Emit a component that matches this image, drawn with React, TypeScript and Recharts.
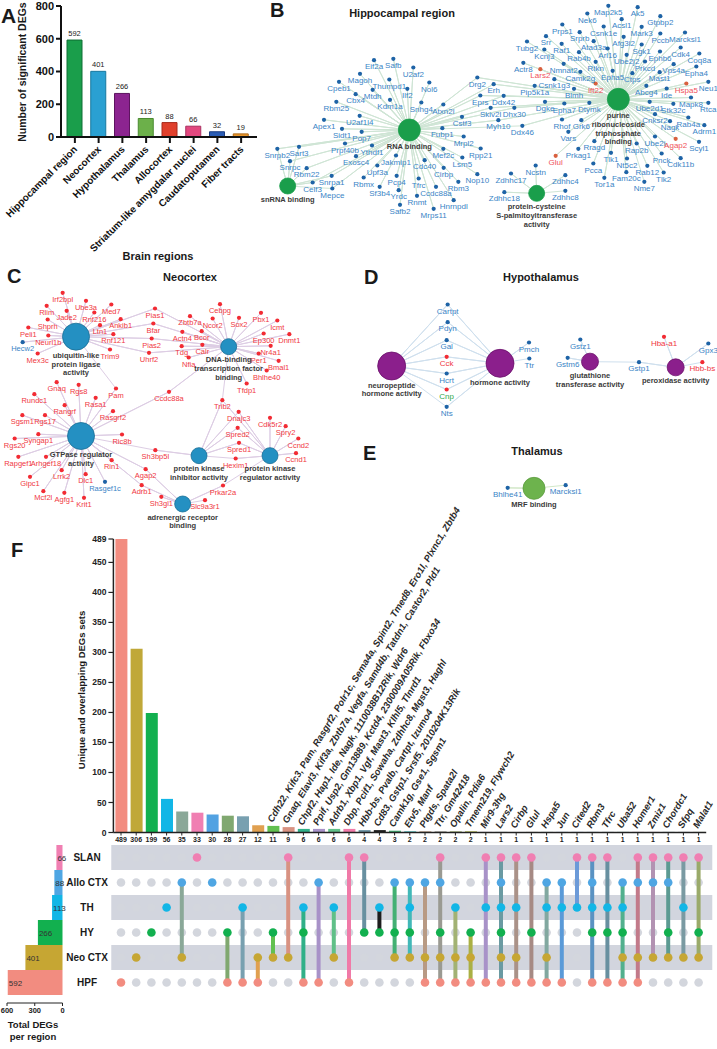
import React from 'react'
import {
  Bar,
  BarChart,
  Cell,
  LabelList,
  ReferenceArea,
  Scatter,
  ScatterChart,
  XAxis,
  YAxis,
} from 'recharts'

const FONT = '"Liberation Sans", Arial, Helvetica, sans-serif'

// ---------- A: DEGs per brain region ----------
const regionNames = [
  'Hippocampal region',
  'Neocortex',
  'Hypothalamus',
  'Thalamus',
  'Allocortex',
  'Striatum-like amygdalar nuclei',
  'Caudatoputamen',
  'Fiber tracts',
]
const regionDEGs = [592, 401, 266, 113, 88, 66, 32, 19]
const regionFill = ['#1a9e4b', '#2aa0d2', '#8c2490', '#6cb04a', '#e0402c', '#e2487f', '#2a5cb4', '#e8962c']
const regionEdge = ['#0f6e34', '#17789f', '#5e1460', '#4a8a30', '#a82a1c', '#a83060', '#1a3c80', '#b06a18']
const degTicks = [0, 200, 400, 600, 800]

// ---------- networks (coordinates in 1/3 px of each panel) ----------
type Hub = { id: string; x: number; y: number; lines: string[] }
type Gene = [string, number, number, string, string?]

const hubsB: Hub[] = [
  { id: 'rna', x: 553, y: 390, lines: ['RNA binding'] },
  { id: 'snrna', x: 188, y: 558, lines: ['snRNA binding'] },
  { id: 'ntp', x: 1180, y: 298, lines: ['purine', 'ribonucleoside', 'triphosphate', 'binding'] },
  { id: 'palm', x: 935, y: 580, lines: ['protein-cysteine', 'S-palmitoyltransferase', 'activity'] },
]

const genesB: Gene[] = [
  ['Eif2a', 447, 200, 'rna'], ['Safb', 505, 196, 'rna'], ['U2af2', 565, 222, 'rna'], ['Nol6', 613, 267, 'rna'],
  ['Magoh', 405, 241, 'rna'], ['Thumpd1', 493, 258, 'rna'], ['Cpeb1', 342, 265, 'rna'], ['Mtdh', 443, 289, 'rna'],
  ['Ilf2', 547, 286, 'rna'], ['Cbx4', 392, 302, 'rna'], ['Kdm1a', 495, 319, 'rna'], ['Snhg4', 589, 327, 'rna'],
  ['Atxn2l', 655, 333, 'rna'], ['Rbm25', 334, 325, 'rna'], ['U2af1l4', 404, 367, 'rna'], ['Apex1', 297, 379, 'rna'],
  ['Sidt1', 351, 406, 'rna'], ['Pop7', 410, 415, 'rna'], ['Prpf40b', 360, 450, 'rna'], ['Ythdf1', 441, 456, 'rna'],
  ['Exosc4', 393, 488, 'rna'], ['Jakmip1', 513, 486, 'rna'], ['Upf3a', 457, 516, 'rna'], ['Rbmx', 416, 552, 'rna'],
  ['Pcp4', 515, 547, 'rna'], ['Sf3b4', 464, 580, 'rna'], ['Yrdc', 521, 590, 'rna'], ['Rnmt', 576, 607, 'rna'],
  ['Safb2', 525, 634, 'rna'], ['Mrps11', 626, 646, 'rna'], ['Hnrnpdl', 686, 620, 'rna'], ['Cdc40', 599, 500, 'rna'],
  ['Cirbp', 656, 523, 'rna'], ['Tfrc', 581, 555, 'rna'], ['Ccdc88a', 633, 580, 'rna'], ['Rbm3', 700, 565, 'rna'],
  ['Nop10', 757, 542, 'rna'], ['Mef2c', 655, 466, 'rna'], ['Lsm5', 712, 492, 'rna'], ['Rpp21', 767, 465, 'rna'],
  ['Mrpl2', 716, 429, 'rna'], ['Fubp1', 652, 404, 'rna'], ['Cstf3', 711, 370, 'rna'],
  ['Snrpb2', 157, 466, 'rna+snrna'], ['Sart3', 222, 460, 'rna+snrna'], ['Snrpc', 195, 503, 'rna+snrna'],
  ['Rbm22', 245, 524, 'rna+snrna'], ['Snrpa1', 320, 547, 'rna+snrna'], ['Celf3', 263, 567, 'rna+snrna'],
  ['Mepce', 322, 585, 'rna+snrna'],
  ['Drg2', 757, 252, 'rna+ntp'], ['Erh', 806, 272, 'rna+ntp'], ['Eprs', 766, 306, 'rna+ntp'], ['Ddx42', 836, 307, 'rna+ntp'],
  ['Skiv2l', 797, 343, 'rna+ntp'], ['Dhx30', 868, 343, 'rna+ntp'], ['Myh10', 820, 380, 'rna+ntp'], ['Ddx46', 892, 397, 'rna+ntp'],
  ['Pip5k1a', 929, 277, 'ntp'], ['Csnk1g3', 988, 257, 'ntp'], ['Dgke', 960, 325, 'ntp'], ['Epha7', 1018, 330, 'ntp'],
  ['Dtymk', 1093, 328, 'ntp'], ['Blmh', 1047, 286, 'ntp'], ['Ift22', 1112, 270, 'ntp', 'r'], ['Map2k5', 1150, 37, 'ntp'],
  ['Ak5', 1238, 41, 'ntp'], ['Nek6', 1087, 60, 'ntp'], ['Acsl1', 1190, 77, 'ntp'], ['Gtpbp2', 1306, 68, 'ntp'],
  ['Prps1', 1012, 93, 'ntp'], ['Csnk1e', 1136, 99, 'ntp'], ['Mark3', 1250, 100, 'ntp'], ['Srprb', 1064, 116, 'ntp'],
  ['Pccb', 1306, 120, 'ntp'], ['Marcksl1', 1380, 117, 'ntp'], ['Srr', 963, 128, 'ntp'], ['Atad3a', 1106, 143, 'ntp'],
  ['Afg3l2', 1196, 130, 'ntp'], ['Tubg2', 906, 144, 'ntp'], ['Raf1', 1010, 151, 'ntp'], ['Sgk1', 1250, 153, 'ntp'],
  ['Kcnj3', 958, 168, 'ntp'], ['Arl16', 1148, 165, 'ntp'], ['Rab4b', 1062, 176, 'ntp'], ['Ube2j2', 1205, 184, 'ntp'],
  ['Ephb6', 1305, 174, 'ntp'], ['Cdk4', 1367, 162, 'ntp'], ['Coq8a', 1423, 180, 'ntp'], ['Rtkn', 1112, 205, 'ntp'],
  ['Prkcd', 1260, 204, 'ntp'], ['Actr8', 895, 208, 'ntp'], ['Lars2', 946, 227, 'ntp', 'r'], ['Nmnat2', 1016, 211, 'ntp'],
  ['Camk2g', 1066, 235, 'ntp'], ['Epha5', 1163, 232, 'ntp'], ['Ctps', 1222, 239, 'ntp'], ['Vps4a', 1346, 212, 'ntp'],
  ['Epha4', 1414, 219, 'ntp'], ['Mast1', 1304, 236, 'ntp'], ['Abcg4', 1264, 277, 'ntp'], ['Ide', 1325, 285, 'ntp'],
  ['Hspa5', 1384, 270, 'ntp', 'r'], ['Neu1', 1450, 265, 'ntp'], ['Ube2d1', 1274, 325, 'ntp'], ['Stk32c', 1345, 331, 'ntp'],
  ['Mapk8', 1398, 312, 'ntp'], ['Rtca', 1450, 328, 'ntp'], ['Cnksr2', 1290, 362, 'ntp'], ['Nagk', 1335, 383, 'ntp'],
  ['Rab4a', 1390, 372, 'ntp'], ['Adrm1', 1438, 395, 'ntp'], ['Rhof', 1011, 378, 'ntp'], ['Grk6', 1069, 380, 'ntp'],
  ['Vars', 1030, 415, 'ntp'], ['Ube2i', 1290, 429, 'ntp'], ['Agap2', 1352, 436, 'ntp', 'r'], ['Scyl1', 1422, 445, 'ntp'],
  ['Rragd', 1108, 443, 'ntp'], ['Rap2b', 1235, 450, 'ntp'], ['Glul', 992, 487, 'ntp', 'r'], ['Prkag1', 1060, 466, 'ntp'],
  ['Tlk1', 1158, 478, 'ntp'], ['Pnck', 1310, 480, 'ntp'], ['Cdk11b', 1367, 494, 'ntp'], ['Nt5c2', 1206, 495, 'ntp'],
  ['Pcca', 1105, 510, 'ntp'], ['Rab12', 1267, 517, 'ntp'], ['Tlk2', 1316, 537, 'ntp'], ['Fam20c', 1204, 536, 'ntp'],
  ['Tor1a', 1138, 553, 'ntp'], ['Nme7', 1258, 565, 'ntp'],
  ['Ncstn', 932, 516, 'palm'], ['Zdhhc17', 858, 540, 'palm'], ['Zdhhc4', 1021, 545, 'palm'],
  ['Zdhhc18', 838, 596, 'palm'], ['Zdhhc8', 1021, 592, 'palm'],
]

const hubsC: Hub[] = [
  { id: 'ubi', x: 228, y: 80, lines: ['ubiquitin-like', 'protein ligase', 'activity'] },
  { id: 'dna', x: 686, y: 110, lines: ['DNA-binding', 'transcription factor', 'binding'] },
  { id: 'gtp', x: 243, y: 378, lines: ['GTPase regulator', 'activity'] },
  { id: 'pki', x: 597, y: 437, lines: ['protein kinase', 'inhibitor activity'] },
  { id: 'pkr', x: 810, y: 437, lines: ['protein kinase', 'regulator activity'] },
  { id: 'adr', x: 548, y: 582, lines: ['adrenergic receptor', 'binding'] },
]

const genesC: Gene[] = [
  ['Irf2bpl', 188, -32, 'ubi', 'r'], ['Rlim', 140, 7, 'ubi', 'r'], ['Jade2', 200, 22, 'ubi', 'r'], ['Ube3a', 258, -8, 'ubi', 'r'],
  ['Med7', 334, 3, 'ubi', 'r'], ['Rnf216', 283, 27, 'ubi', 'r'], ['Shprh', 143, 48, 'ubi', 'r'], ['Peli1', 85, 72, 'ubi', 'r'],
  ['Ltn1', 300, 65, 'ubi', 'r'], ['Ankib1', 362, 47, 'ubi', 'r'], ['Neurl1b', 145, 96, 'ubi', 'r'], ['Hecw2', 68, 116, 'ubi', 'b'],
  ['Rnf121', 340, 92, 'ubi', 'r'], ['Mex3c', 113, 150, 'ubi', 'r'], ['Trim9', 330, 138, 'ubi', 'r'],
  ['Pias1', 465, 15, 'ubi+dna', 'r'], ['Bfar', 460, 60, 'ubi+dna', 'r'], ['Pias2', 455, 105, 'ubi+dna', 'r'], ['Uhrf2', 447, 148, 'ubi+dna', 'r'],
  ['Cebpg', 660, 2, 'dna', 'r'], ['Zbtb7a', 570, 38, 'dna', 'r'], ['Ncor2', 638, 45, 'dna', 'r'], ['Sox2', 717, 43, 'dna', 'r'],
  ['Pbx1', 783, 28, 'dna', 'r'], ['Icmt', 832, 51, 'dna', 'r'], ['Actn4', 547, 85, 'dna', 'r'], ['Bcor', 605, 83, 'dna', 'r'],
  ['Ep300', 791, 90, 'dna', 'r'], ['Dnmt1', 868, 92, 'dna', 'r'], ['Tdg', 545, 128, 'dna', 'r'], ['Calr', 607, 124, 'dna', 'r'],
  ['Nr4a1', 812, 127, 'dna', 'r'], ['Nfia', 566, 162, 'dna', 'r'], ['Per1', 776, 150, 'dna', 'r'], ['Bmal1', 836, 172, 'dna', 'r'],
  ['Bhlhe40', 800, 201, 'dna', 'r'], ['Tfdp1', 740, 240, 'dna', 'r'],
  ['Pam', 348, 255, 'ubi+gtp', 'r'], ['Ccdc88a', 507, 265, 'gtp+dna', 'r'], ['Trib2', 667, 290, 'dna+pki+pkr', 'r'],
  ['Gnaq', 170, 236, 'gtp', 'r'], ['Rgs8', 236, 244, 'gtp', 'r'], ['Rundc1', 103, 272, 'gtp', 'r'], ['Rasa1', 287, 283, 'gtp', 'r'],
  ['Rangrf', 194, 305, 'gtp', 'r'], ['Rasgrf2', 339, 323, 'gtp', 'r'], ['Sgsm1', 67, 335, 'gtp', 'r'], ['Rgs17', 135, 335, 'gtp', 'r'],
  ['Syngap1', 115, 392, 'gtp', 'r'], ['Rgs20', 44, 405, 'gtp', 'r'], ['Ric8b', 366, 393, 'gtp', 'r'], ['Rapgef1', 55, 460, 'gtp', 'r'],
  ['Arhgef18', 138, 460, 'gtp', 'r'], ['Rin1', 335, 470, 'gtp', 'r'], ['Gipc1', 90, 520, 'gtp', 'r'], ['Lrrk2', 185, 500, 'gtp', 'r'],
  ['Dlc1', 257, 512, 'gtp', 'r'], ['Rasgef1c', 315, 535, 'gtp', 'b'], ['Mcf2l', 130, 563, 'gtp', 'r'], ['Agfg1', 193, 568, 'gtp', 'r'],
  ['Krit1', 252, 583, 'gtp', 'r'],
  ['Agap2', 437, 497, 'gtp+adr', 'r'], ['Adrb1', 425, 545, 'gtp+adr', 'r'], ['Sh3bp5l', 466, 440, 'gtp+pki', 'r'],
  ['Dnajc3', 716, 325, 'pki+pkr', 'r'], ['Spred2', 713, 373, 'pki+pkr', 'r'], ['Spred1', 717, 418, 'pki+pkr', 'r'],
  ['Hexim1', 707, 465, 'pki+pkr', 'r'],
  ['Cdk5r2', 810, 343, 'pkr', 'r'], ['Spry2', 857, 368, 'pkr', 'r'], ['Ccnd2', 895, 405, 'pkr', 'r'], ['Ccnd1', 888, 449, 'pkr', 'r'],
  ['Prkar2a', 669, 546, 'pkr+adr', 'r'], ['Sh3gl1', 484, 580, 'adr', 'r'], ['Slc9a3r1', 615, 590, 'adr', 'r'],
]

const hubsD: Hub[] = [
  { id: 'neuro', x: 140, y: 168, lines: ['neuropeptide', 'hormone activity'] },
  { id: 'horm', x: 465, y: 160, lines: ['hormone activity'] },
  { id: 'glut', x: 735, y: 155, lines: ['glutathione', 'transferase activity'] },
  { id: 'perox', x: 992, y: 172, lines: ['peroxidase activity'] },
  { id: 'mrf', x: 567, y: 535, lines: ['MRF binding'] },
]

const genesD: Gene[] = [
  ['Cartpt', 308, 3, 'neuro+horm'], ['Pdyn', 308, 56, 'neuro+horm'], ['Gal', 305, 110, 'neuro+horm'],
  ['Cck', 305, 160, 'neuro+horm', 'r'], ['Hcrt', 305, 210, 'neuro+horm'], ['Cnp', 305, 258, 'neuro+horm', 'g'],
  ['Nts', 305, 310, 'neuro+horm'], ['Pmch', 552, 117, 'horm'], ['Ttr', 553, 165, 'horm'],
  ['Gstz1', 706, 108, 'glut'], ['Gstm6', 668, 163, 'glut'], ['Gstp1', 882, 176, 'glut+perox'],
  ['Hba-a1', 957, 100, 'perox', 'r'], ['Gpx3', 1090, 120, 'perox'], ['Hbb-bs', 1072, 176, 'perox', 'r'],
  ['Bhlhe41', 488, 553, 'mrf'], ['Marcksl1', 662, 545, 'mrf'],
]

// ---------- F: UpSet ----------
const setNames = ['SLAN', 'Allo CTX', 'TH', 'HY', 'Neo CTX', 'HPF']
const setSizes = [66, 88, 113, 266, 401, 592]
const setColors = ['#f07fb2', '#4fa6e3', '#12b6e6', '#12b04f', '#c6a633', '#f28c80']

const interSizes = [489, 306, 199, 56, 35, 33, 30, 28, 27, 12, 11, 9, 6, 6, 6, 6, 4, 4, 3, 2, 2, 2, 2, 2,
  1, 1, 1, 1, 1, 1, 1, 1, 1, 1, 1, 1, 1, 1, 1]
const interMembers = [
  [5], [4], [3], [2], [1, 4], [0], [1], [3, 5], [2, 5], [4, 5], [3, 4], [0, 4], [2, 3, 5], [1, 5], [2, 4],
  [0, 5], [0, 3], [2, 3], [1, 3, 4], [1, 2, 3, 4], [1, 4, 5], [0, 1, 3, 4, 5], [2, 4, 5], [3, 4, 5],
  [0, 2, 5], [0, 1, 2, 3, 4, 5], [0, 2, 4, 5], [0, 3, 5], [1, 2, 4, 5], [1, 2, 5], [0, 2], [0, 1, 2, 3, 5],
  [0, 2, 3, 5], [1, 2, 3, 4, 5], [0, 1, 4, 5], [0, 1, 4], [0, 1, 3, 4], [0, 2, 4], [0, 3, 4],
]
const interColors = [
  '#f28c80', '#c0a838', '#12b04f', '#12b6e6', '#8aa898', '#f07fb2', '#52a2e2', '#80a870', '#78a0b0', '#e0a050',
  '#62c050', '#d89282', '#30b088', '#a892c8', '#60c088', '#f07aa8', '#6890a0', '#1e1e1e', '#44b074', '#42b8b8',
  '#b89a84', '#9a9a92', '#a2b274', '#aab044', '#a892c8', '#6a9aa2', '#aa9288', '#a68a84', '#82a8a0', '#5a9ad8',
  '#6c9ad8', '#5a92c2', '#6890a0', '#52b08e', '#c27a8a', '#b292b2', '#5c9a92', '#7a9aa2', '#9aaa6a',
]
const interGenes = [
  '', '', '', '', '', '', '', '', '', '',
  'Cdh22, Kifc3, Pam, Rasgrf2, Polr1c, Sema4a, Spint2, Tmed8, Ero1l, Plxnc1, Zbtb4',
  'Gnaq, Elavl3, Kif3a, Zbtb7a, Vegfa, Samd4b, Tatdn1, Castor2, Pld1',
  'Chpf2, Hap1, Ide, Nagk, 1110038B12Rik, Wdr6',
  'Ppif, Usp2, Gm13889, Kctd4, 2300009A05Rik, Fbxo34',
  'Adrb1, Xbp1, Vgf, Mast3, Klhl5, Tlnrd1',
  'Dbp, Pcif1, Sowaha, Zdhhc8, Mgst3, Haghl',
  'Hbb-bs, Pvalb, Cartpt, Izumo4',
  'Cd83, Gstp1, Srsf5, 2010204K13Rik',
  'Camk1g, Gse1, Sgsm1',
  'Etv5, Manf', 'Ptgds, Spata2l', 'Ttr, Gm42418', 'Opalin, Pdia6', 'Tmem219, Flywch2',
  'Mir9-3hg', 'Lars2', 'Cirbp', 'Glul', 'Hspa5', 'Jun', 'Cited2', 'Rbm3', 'Tfrc', 'Uba52', 'Homer1',
  'Zmiz1', 'Chordc1', 'Sfpq', 'Malat1',
]
const interTicks = [0, 50, 100, 150, 200, 250, 300, 350, 400, 450, 489]
const totalTicks = [0, 300, 600]

// ---------- network drawing ----------
const DOT_UP = 19.5 // label sits 6.5 px under its dot

type Tone = { dot: string; label: string }

const geneShape = (tones: Record<string, Tone>, size: number) => (p: any) => {
  const t = tones[p.payload.tone] ?? tones.b
  return (
    <g>
      <circle cx={p.cx} cy={p.cy} r={2.1} fill={t.dot} />
      <text x={p.cx} y={p.cy + 6.5 + size * 0.35} textAnchor="middle" fontSize={size} fill={t.label} fontFamily={FONT}>
        {p.payload.name}
      </text>
    </g>
  )
}

const hubShape = (radius: Record<string, number>, fill: Record<string, string>, stroke: Record<string, string>) => (p: any) => {
  const r = radius[p.payload.id]
  return (
    <g>
      <circle cx={p.cx} cy={p.cy} r={r} fill={fill[p.payload.id]} stroke={stroke[p.payload.id]} strokeWidth={0.8} />
      {p.payload.lines.map((l: string, i: number) => (
        <text key={l} x={p.cx} y={p.cy + r + 5 + i * 8.8 + 2.6} textAnchor="middle" fontSize={7.5}
          fontWeight="bold" fill="#3a3a3a" fontFamily={FONT}>{l}</text>
      ))}
    </g>
  )
}

interface NetProps {
  left: number
  top: number
  width: number
  height: number
  yFrom: number
  hubs: Hub[]
  genes: Gene[]
  radius: Record<string, number>
  fill: Record<string, string>
  stroke: Record<string, string>
  edge: Record<string, string>
  tones: Record<string, Tone>
  size: number
}

const Network = ({ left, top, width, height, yFrom, hubs, genes, radius, fill, stroke, edge, tones, size }: NetProps) => {
  const nodes = genes.map(([name, x, y, links, tone]) => ({ name, x, y: y - DOT_UP, links: links.split('+'), tone: tone ?? 'b' }))
  const spokes = hubs.map((h) => ({
    id: h.id,
    pts: nodes.filter((n) => n.links.includes(h.id)).flatMap((n) => [{ x: h.x, y: h.y }, { x: n.x, y: n.y }]),
  }))
  return (
    <div style={{ position: 'absolute', left, top }}>
      <ScatterChart width={width} height={height} margin={{ top: 0, right: 0, bottom: 0, left: 0 }}>
        <XAxis type="number" dataKey="x" domain={[0, width * 3]} hide />
        <YAxis type="number" dataKey="y" domain={[yFrom, yFrom + height * 3]} reversed hide />
        {spokes.map((s) => (
          <Scatter key={s.id} data={s.pts} line={{ stroke: edge[s.id], strokeWidth: 1 }} shape={() => <g />}
            isAnimationActive={false} />
        ))}
        <Scatter data={nodes} shape={geneShape(tones, size)} isAnimationActive={false} />
        <Scatter data={hubs} shape={hubShape(radius, fill, stroke)} isAnimationActive={false} />
      </ScatterChart>
    </div>
  )
}

const blueTone = { dot: '#1e63a6', label: '#3a84c6' }
const redTone = { dot: '#f22b33', label: '#f0383f' }

// ---------- small pieces ----------
const RegionTick = ({ x, y, payload }: any) => {
  const ax = x + 3
  const ay = y + 5
  return (
    <text x={ax} y={ay} transform={`rotate(-45 ${ax} ${ay})`} textAnchor="end" fontSize={10} fontWeight="bold"
      fill="#111" fontFamily={FONT}>{payload.value}</text>
  )
}

const GeneList = (props: any) => {
  const vb = props.viewBox ?? props
  const text = props.value
  if (!text) return null
  const px = vb.x + vb.width / 2 - 1
  const py = vb.y - 3
  return (
    <text x={px} y={py} transform={`rotate(-59 ${px} ${py})`} fontSize={9.5} fontStyle="italic" fontWeight="bold"
      fill="#2a2a2a" fontFamily={FONT}>{text}</text>
  )
}

const SetLabel = (props: any) => {
  const vb = props.viewBox ?? props
  const left = Math.min(vb.x, vb.x + vb.width)
  return (
    <text x={left + 1} y={vb.y + vb.height / 2 + 3} fontSize={8} fill="#333" fontFamily={FONT}>{props.value}</text>
  )
}

const T = ({ x, y, s, children, a = 'middle', w = 'bold', r }: any) => (
  <text x={x} y={y} fontSize={s} fontWeight={w} textAnchor={a} fill="#1a1a1a" fontFamily={FONT}
    transform={r ? `rotate(${r} ${x} ${y})` : undefined}>{children}</text>
)

export default function App() {
  const regionData = regionNames.map((name, i) => ({ name, value: regionDEGs[i] }))
  const interData = interSizes.map((size, id) => ({ id, size, genes: interGenes[id] }))
  const setData = setNames.map((name, i) => ({ name, size: setSizes[i] }))
  const cells = interMembers.flatMap((m, c) => setNames.map((_, r) => ({ x: c, y: r, on: m.includes(r) })))
  const offDots = cells.filter((d) => !d.on)
  const onDots = cells.filter((d) => d.on)

  return (
    <div style={{ position: 'absolute', left: 0, top: 0, width: 717, height: 1049, background: '#fff', overflow: 'hidden', fontFamily: FONT }}>
      {/* A */}
      <div style={{ position: 'absolute', left: 0, top: 0 }}>
        <BarChart width={262} height={270} data={regionData} margin={{ top: 6, right: 5, left: 0, bottom: 13 }}>
          <XAxis dataKey="name" interval={0} height={120} tick={<RegionTick />} padding={{ left: 2, right: 4 }}
            axisLine={{ stroke: '#111', strokeWidth: 2 }} tickLine={{ stroke: '#111', strokeWidth: 2 }} tickSize={6} />
          <YAxis width={61} domain={[0, 800]} ticks={degTicks} interval={0}
            tick={{ fontSize: 11, fontWeight: 'bold', fill: '#111', fontFamily: FONT }}
            axisLine={{ stroke: '#111', strokeWidth: 2 }} tickLine={{ stroke: '#111', strokeWidth: 2 }} tickSize={5} />
          <Bar dataKey="value" barSize={15} isAnimationActive={false}>
            {regionData.map((d, i) => (
              <Cell key={d.name} fill={regionFill[i]} stroke={regionEdge[i]} strokeWidth={1} />
            ))}
            <LabelList dataKey="value" position="top" offset={4} fontSize={7.5} fill="#222" />
          </Bar>
        </BarChart>
      </div>

      {/* B */}
      <Network left={225} top={0} width={492} height={240} yFrom={0} hubs={hubsB} genes={genesB}
        radius={{ rna: 11, snrna: 8, ntp: 11, palm: 8 }}
        fill={{ rna: '#1a9e4b', snrna: '#1a9e4b', ntp: '#1a9e4b', palm: '#1a9e4b' }}
        stroke={{ rna: '#1a9e4b', snrna: '#1a9e4b', ntp: '#1a9e4b', palm: '#1a9e4b' }}
        edge={{ rna: '#cfe5d5', snrna: '#cfe5d5', ntp: '#cfe5d5', palm: '#cfe5d5' }}
        tones={{ b: blueTone, r: { dot: '#d9603f', label: '#f0525a' } }} size={8} />

      {/* C */}
      <Network left={0} top={285} width={350} height={250} yFrom={-75} hubs={hubsC} genes={genesC}
        radius={{ ubi: 13.5, dna: 8, gtp: 13.5, pki: 8, pkr: 8, adr: 8 }}
        fill={{ ubi: '#2490c2', dna: '#2490c2', gtp: '#2490c2', pki: '#2490c2', pkr: '#2490c2', adr: '#2490c2' }}
        stroke={{ ubi: '#1b6e96', dna: '#1b6e96', gtp: '#1b6e96', pki: '#1b6e96', pkr: '#1b6e96', adr: '#1b6e96' }}
        edge={{ ubi: '#ddcde4', dna: '#ddcde4', gtp: '#ddcde4', pki: '#ddcde4', pkr: '#ddcde4', adr: '#ddcde4' }}
        tones={{ b: blueTone, r: redTone }} size={7.5} />

      {/* D + E */}
      <Network left={345} top={285} width={372} height={240} yFrom={-75} hubs={hubsD} genes={genesD}
        radius={{ neuro: 14, horm: 14, glut: 8.5, perox: 8.5, mrf: 11 }}
        fill={{ neuro: '#8b1f8c', horm: '#8b1f8c', glut: '#8b1f8c', perox: '#8b1f8c', mrf: '#6db34d' }}
        stroke={{ neuro: '#6b126b', horm: '#6b126b', glut: '#6b126b', perox: '#6b126b', mrf: '#5a9a3e' }}
        edge={{ neuro: '#cfe0ee', horm: '#cfe0ee', glut: '#cfe0ee', perox: '#cfe0ee', mrf: '#d2e8c8' }}
        tones={{ b: blueTone, r: redTone, g: { dot: '#f22b33', label: '#2fa84a' } }} size={8} />

      {/* F intersections */}
      <div style={{ position: 'absolute', left: 0, top: 470 }}>
        <BarChart width={717} height={380} data={interData} margin={{ top: 69, right: 10.8, bottom: 3.5, left: 73.4 }}>
          <XAxis dataKey="id" interval={0} tickFormatter={(v: number) => String(interSizes[v])} height={14} tickSize={3}
            tick={{ fontSize: 7, fontWeight: 'bold', fill: '#222' }} axisLine={{ stroke: '#222', strokeWidth: 1.5 }}
            tickLine={{ stroke: '#222' }} />
          <YAxis width={40} domain={[0, 489]} ticks={interTicks} interval={0} tickSize={5}
            tick={{ fontSize: 8.5, fontWeight: 'bold', fill: '#222' }} axisLine={{ stroke: '#222', strokeWidth: 1.5 }}
            tickLine={{ stroke: '#222', strokeWidth: 1.2 }} />
          <Bar dataKey="size" barSize={12} isAnimationActive={false}>
            {interData.map((d) => (
              <Cell key={d.id} fill={interColors[d.id]} />
            ))}
            <LabelList dataKey="genes" content={GeneList} />
          </Bar>
        </BarChart>
      </div>

      {/* F matrix */}
      <div style={{ position: 'absolute', left: 0, top: 840 }}>
        <ScatterChart width={717} height={160} margin={{ top: 5, right: 10.8, bottom: 5, left: 113.4 }}>
          <XAxis type="number" dataKey="x" domain={[-0.5, 38.5]} hide />
          <YAxis type="number" dataKey="y" domain={[-0.5, 5.5]} reversed hide />
          {[0, 2, 4].map((r) => (
            <ReferenceArea key={r} x1={-0.64} x2={38.9} y1={r - 0.5} y2={r + 0.5} fill="#d2d5de" fillOpacity={1}
              stroke="none" ifOverflow="visible" />
          ))}
          <Scatter data={offDots} isAnimationActive={false}
            shape={(p: any) => <circle cx={p.cx} cy={p.cy} r={4.3} fill="#d3d6dd" />} />
          {interMembers.map((m, c) => (
            <Scatter key={c} data={[{ x: c, y: Math.min(...m) }, { x: c, y: Math.max(...m) }]} isAnimationActive={false}
              line={{ stroke: interColors[c], strokeWidth: 4 }} shape={() => <g />} />
          ))}
          <Scatter data={onDots} isAnimationActive={false}
            shape={(p: any) => <circle cx={p.cx} cy={p.cy} r={4.3} fill={setColors[p.payload.y]} />} />
        </ScatterChart>
      </div>

      {/* F set sizes */}
      <div style={{ position: 'absolute', left: 0, top: 845 }}>
        <BarChart layout="vertical" width={72} height={180} data={setData} margin={{ top: 0, right: 9.5, left: 7, bottom: 2 }}
          barCategoryGap={0}>
          <XAxis type="number" domain={[0, 600]} reversed ticks={totalTicks} interval={0} height={20} tickSize={3}
            tick={{ fontSize: 7.5, fontWeight: 'bold', fill: '#222' }} axisLine={{ stroke: '#222' }} tickLine={{ stroke: '#222' }} />
          <YAxis type="category" dataKey="name" hide padding={{ top: 0, bottom: 8 }} />
          <Bar dataKey="size" isAnimationActive={false}>
            {setData.map((d, i) => (
              <Cell key={d.name} fill={setColors[i]} />
            ))}
            <LabelList dataKey="size" content={SetLabel} />
          </Bar>
        </BarChart>
      </div>

      {/* titles, letters, axis titles */}
      <svg width={717} height={1049} style={{ position: 'absolute', left: 0, top: 0, pointerEvents: 'none' }}>
        <T x={1} y={23} s={21} a="start">A</T>
        <T x={270} y={17} s={20} a="start">B</T>
        <T x={7} y={283} s={20} a="start">C</T>
        <T x={364} y={284} s={20} a="start">D</T>
        <T x={363} y={460} s={20} a="start">E</T>
        <T x={11} y={557} s={20} a="start">F</T>
        <T x={402} y={17} s={11}>Hippocampal region</T>
        <T x={190} y={281} s={11}>Neocortex</T>
        <T x={541} y={281} s={11}>Hypothalamus</T>
        <T x={537} y={455} s={11}>Thalamus</T>
        <T x={158} y={260} s={11}>Brain regions</T>
        <T x={26} y={72} s={10.5} r={-90}>Number of significant DEGs</T>
        <T x={85} y={690} s={9.5} r={-90}>Unique and overlapping DEGs sets</T>
        {setNames.map((n, i) => (
          <T key={n} x={87} y={860.5 + i * 25} s={10}>{n}</T>
        ))}
        <T x={33} y={1028} s={9.5}>Total DEGs</T>
        <T x={33} y={1040} s={9.5}>per region</T>
      </svg>
    </div>
  )
}
